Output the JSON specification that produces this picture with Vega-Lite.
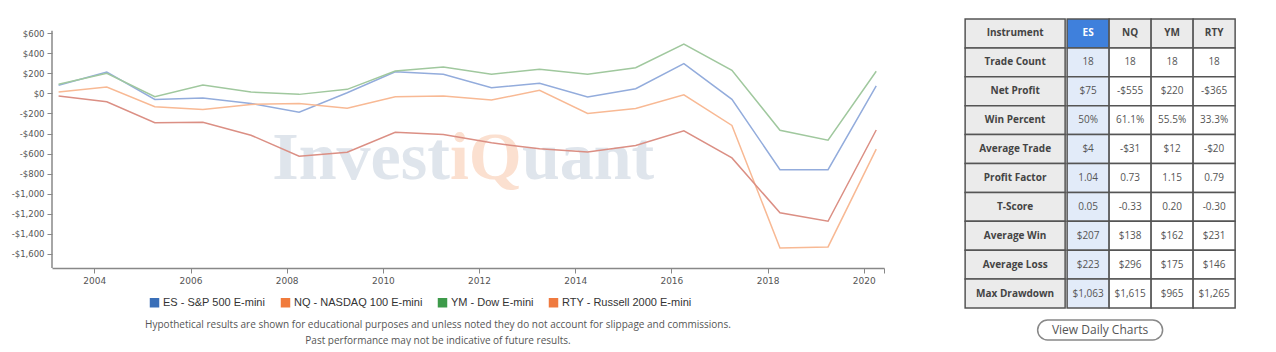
{
  "$schema": "https://vega.github.io/schema/vega-lite/v6.json",
  "background": "white",
  "padding": {"left": 11, "top": 18, "right": 0, "bottom": 0},
  "config": {"view": {"stroke": null}},
  "datasets": {
    "series": [
      {"date": "2003-04-05", "series": "ES - S&P 500 E-mini", "value": 80},
      {"date": "2004-04-05", "series": "ES - S&P 500 E-mini", "value": 213},
      {"date": "2005-04-05", "series": "ES - S&P 500 E-mini", "value": -60},
      {"date": "2006-04-05", "series": "ES - S&P 500 E-mini", "value": -47},
      {"date": "2007-04-05", "series": "ES - S&P 500 E-mini", "value": -100},
      {"date": "2008-04-05", "series": "ES - S&P 500 E-mini", "value": -187},
      {"date": "2009-04-05", "series": "ES - S&P 500 E-mini", "value": 6},
      {"date": "2010-04-05", "series": "ES - S&P 500 E-mini", "value": 216},
      {"date": "2011-04-05", "series": "ES - S&P 500 E-mini", "value": 190},
      {"date": "2012-04-05", "series": "ES - S&P 500 E-mini", "value": 56},
      {"date": "2013-04-05", "series": "ES - S&P 500 E-mini", "value": 100},
      {"date": "2014-04-05", "series": "ES - S&P 500 E-mini", "value": -37},
      {"date": "2015-04-05", "series": "ES - S&P 500 E-mini", "value": 46},
      {"date": "2016-04-05", "series": "ES - S&P 500 E-mini", "value": 296},
      {"date": "2017-04-05", "series": "ES - S&P 500 E-mini", "value": -60},
      {"date": "2018-04-05", "series": "ES - S&P 500 E-mini", "value": -760},
      {"date": "2019-04-05", "series": "ES - S&P 500 E-mini", "value": -760},
      {"date": "2020-04-05", "series": "ES - S&P 500 E-mini", "value": 75},
      {"date": "2003-04-05", "series": "NQ - NASDAQ 100 E-mini", "value": 13},
      {"date": "2004-04-05", "series": "NQ - NASDAQ 100 E-mini", "value": 63},
      {"date": "2005-04-05", "series": "NQ - NASDAQ 100 E-mini", "value": -134},
      {"date": "2006-04-05", "series": "NQ - NASDAQ 100 E-mini", "value": -160},
      {"date": "2007-04-05", "series": "NQ - NASDAQ 100 E-mini", "value": -110},
      {"date": "2008-04-05", "series": "NQ - NASDAQ 100 E-mini", "value": -100},
      {"date": "2009-04-05", "series": "NQ - NASDAQ 100 E-mini", "value": -147},
      {"date": "2010-04-05", "series": "NQ - NASDAQ 100 E-mini", "value": -34},
      {"date": "2011-04-05", "series": "NQ - NASDAQ 100 E-mini", "value": -27},
      {"date": "2012-04-05", "series": "NQ - NASDAQ 100 E-mini", "value": -67},
      {"date": "2013-04-05", "series": "NQ - NASDAQ 100 E-mini", "value": 30},
      {"date": "2014-04-05", "series": "NQ - NASDAQ 100 E-mini", "value": -200},
      {"date": "2015-04-05", "series": "NQ - NASDAQ 100 E-mini", "value": -150},
      {"date": "2016-04-05", "series": "NQ - NASDAQ 100 E-mini", "value": -14},
      {"date": "2017-04-05", "series": "NQ - NASDAQ 100 E-mini", "value": -320},
      {"date": "2018-04-05", "series": "NQ - NASDAQ 100 E-mini", "value": -1540},
      {"date": "2019-04-05", "series": "NQ - NASDAQ 100 E-mini", "value": -1530},
      {"date": "2020-04-05", "series": "NQ - NASDAQ 100 E-mini", "value": -555},
      {"date": "2003-04-05", "series": "YM - Dow E-mini", "value": 90},
      {"date": "2004-04-05", "series": "YM - Dow E-mini", "value": 200},
      {"date": "2005-04-05", "series": "YM - Dow E-mini", "value": -34},
      {"date": "2006-04-05", "series": "YM - Dow E-mini", "value": 83},
      {"date": "2007-04-05", "series": "YM - Dow E-mini", "value": 13},
      {"date": "2008-04-05", "series": "YM - Dow E-mini", "value": -10},
      {"date": "2009-04-05", "series": "YM - Dow E-mini", "value": 40},
      {"date": "2010-04-05", "series": "YM - Dow E-mini", "value": 222},
      {"date": "2011-04-05", "series": "YM - Dow E-mini", "value": 263},
      {"date": "2012-04-05", "series": "YM - Dow E-mini", "value": 190},
      {"date": "2013-04-05", "series": "YM - Dow E-mini", "value": 240},
      {"date": "2014-04-05", "series": "YM - Dow E-mini", "value": 190},
      {"date": "2015-04-05", "series": "YM - Dow E-mini", "value": 256},
      {"date": "2016-04-05", "series": "YM - Dow E-mini", "value": 490},
      {"date": "2017-04-05", "series": "YM - Dow E-mini", "value": 230},
      {"date": "2018-04-05", "series": "YM - Dow E-mini", "value": -367},
      {"date": "2019-04-05", "series": "YM - Dow E-mini", "value": -467},
      {"date": "2020-04-05", "series": "YM - Dow E-mini", "value": 220},
      {"date": "2003-04-05", "series": "RTY - Russell 2000 E-mini", "value": -27},
      {"date": "2004-04-05", "series": "RTY - Russell 2000 E-mini", "value": -84},
      {"date": "2005-04-05", "series": "RTY - Russell 2000 E-mini", "value": -293},
      {"date": "2006-04-05", "series": "RTY - Russell 2000 E-mini", "value": -287},
      {"date": "2007-04-05", "series": "RTY - Russell 2000 E-mini", "value": -417},
      {"date": "2008-04-05", "series": "RTY - Russell 2000 E-mini", "value": -627},
      {"date": "2009-04-05", "series": "RTY - Russell 2000 E-mini", "value": -587},
      {"date": "2010-04-05", "series": "RTY - Russell 2000 E-mini", "value": -387},
      {"date": "2011-04-05", "series": "RTY - Russell 2000 E-mini", "value": -410},
      {"date": "2012-04-05", "series": "RTY - Russell 2000 E-mini", "value": -493},
      {"date": "2013-04-05", "series": "RTY - Russell 2000 E-mini", "value": -553},
      {"date": "2014-04-05", "series": "RTY - Russell 2000 E-mini", "value": -583},
      {"date": "2015-04-05", "series": "RTY - Russell 2000 E-mini", "value": -520},
      {"date": "2016-04-05", "series": "RTY - Russell 2000 E-mini", "value": -373},
      {"date": "2017-04-05", "series": "RTY - Russell 2000 E-mini", "value": -643},
      {"date": "2018-04-05", "series": "RTY - Russell 2000 E-mini", "value": -1190},
      {"date": "2019-04-05", "series": "RTY - Russell 2000 E-mini", "value": -1274},
      {"date": "2020-04-05", "series": "RTY - Russell 2000 E-mini", "value": -365}
    ],
    "metrics": [
      {"metric": "Instrument"}, {"metric": "Trade Count"}, {"metric": "Net Profit"}, {"metric": "Win Percent"}, {"metric": "Average Trade"},
      {"metric": "Profit Factor"}, {"metric": "T-Score"}, {"metric": "Average Win"}, {"metric": "Average Loss"}, {"metric": "Max Drawdown"}
    ],
    "table": [
      {"metric": "Instrument", "inst": "ES", "value": "ES"},
      {"metric": "Instrument", "inst": "NQ", "value": "NQ"},
      {"metric": "Instrument", "inst": "YM", "value": "YM"},
      {"metric": "Instrument", "inst": "RTY", "value": "RTY"},
      {"metric": "Trade Count", "inst": "ES", "value": "18"},
      {"metric": "Trade Count", "inst": "NQ", "value": "18"},
      {"metric": "Trade Count", "inst": "YM", "value": "18"},
      {"metric": "Trade Count", "inst": "RTY", "value": "18"},
      {"metric": "Net Profit", "inst": "ES", "value": "$75"},
      {"metric": "Net Profit", "inst": "NQ", "value": "-$555"},
      {"metric": "Net Profit", "inst": "YM", "value": "$220"},
      {"metric": "Net Profit", "inst": "RTY", "value": "-$365"},
      {"metric": "Win Percent", "inst": "ES", "value": "50%"},
      {"metric": "Win Percent", "inst": "NQ", "value": "61.1%"},
      {"metric": "Win Percent", "inst": "YM", "value": "55.5%"},
      {"metric": "Win Percent", "inst": "RTY", "value": "33.3%"},
      {"metric": "Average Trade", "inst": "ES", "value": "$4"},
      {"metric": "Average Trade", "inst": "NQ", "value": "-$31"},
      {"metric": "Average Trade", "inst": "YM", "value": "$12"},
      {"metric": "Average Trade", "inst": "RTY", "value": "-$20"},
      {"metric": "Profit Factor", "inst": "ES", "value": "1.04"},
      {"metric": "Profit Factor", "inst": "NQ", "value": "0.73"},
      {"metric": "Profit Factor", "inst": "YM", "value": "1.15"},
      {"metric": "Profit Factor", "inst": "RTY", "value": "0.79"},
      {"metric": "T-Score", "inst": "ES", "value": "0.05"},
      {"metric": "T-Score", "inst": "NQ", "value": "-0.33"},
      {"metric": "T-Score", "inst": "YM", "value": "0.20"},
      {"metric": "T-Score", "inst": "RTY", "value": "-0.30"},
      {"metric": "Average Win", "inst": "ES", "value": "$207"},
      {"metric": "Average Win", "inst": "NQ", "value": "$138"},
      {"metric": "Average Win", "inst": "YM", "value": "$162"},
      {"metric": "Average Win", "inst": "RTY", "value": "$231"},
      {"metric": "Average Loss", "inst": "ES", "value": "$223"},
      {"metric": "Average Loss", "inst": "NQ", "value": "$296"},
      {"metric": "Average Loss", "inst": "YM", "value": "$175"},
      {"metric": "Average Loss", "inst": "RTY", "value": "$146"},
      {"metric": "Max Drawdown", "inst": "ES", "value": "$1,063"},
      {"metric": "Max Drawdown", "inst": "NQ", "value": "$1,615"},
      {"metric": "Max Drawdown", "inst": "YM", "value": "$965"},
      {"metric": "Max Drawdown", "inst": "RTY", "value": "$1,265"}
    ]
  },
  "spacing": 79,
  "hconcat": [
    {
      "width": 832,
      "height": 249,
      "title": {
        "text": ["Hypothetical results are shown for educational purposes and unless noted they do not account for slippage and commissions.", "Past performance may not be indicative of future results."],
        "orient": "bottom",
        "anchor": "middle",
        "frame": "group",
        "dx": -30,
        "offset": 35,
        "font": "Open Sans",
        "fontSize": 10,
        "fontWeight": "normal",
        "color": "#555",
        "lineHeight": 16
      },
      "layer": [
        {
          "data": {"values": [{"t": "Invest"}]},
          "mark": {"type": "text", "align": "right", "baseline": "alphabetic", "font": "Liberation Serif", "fontWeight": "bold", "fontSize": 68, "color": "#dfe5ec"},
          "encoding": {
            "x": {"datum": {"year": 2011, "month": 5, "date": 25}, "type": "temporal"},
            "y": {"datum": -855, "type": "quantitative"},
            "text": {"field": "t"}
          }
        },
        {
          "data": {"values": [{"t": "iQ"}]},
          "mark": {"type": "text", "align": "left", "baseline": "alphabetic", "font": "Liberation Serif", "fontWeight": "bold", "fontSize": 68, "color": "#fbe0d0"},
          "encoding": {
            "x": {"datum": {"year": 2011, "month": 5, "date": 25}, "type": "temporal"},
            "y": {"datum": -855, "type": "quantitative"},
            "text": {"field": "t"}
          }
        },
        {
          "data": {"values": [{"t": "uant"}]},
          "mark": {"type": "text", "align": "left", "baseline": "alphabetic", "font": "Liberation Serif", "fontWeight": "bold", "fontSize": 68, "color": "#dfe5ec"},
          "encoding": {
            "x": {"datum": {"year": 2012, "month": 11, "date": 22}, "type": "temporal"},
            "y": {"datum": -855, "type": "quantitative"},
            "text": {"field": "t"}
          }
        },
        {
          "data": {"values": [{"t": "axis"}]},
          "mark": {"type": "rule", "color": "#888", "strokeWidth": 1.5},
          "encoding": {
            "x": {"datum": {"year": 2003, "month": 2, "date": 14}, "type": "temporal"},
            "y": {"datum": 623, "type": "quantitative"},
            "y2": {"datum": -1740}
          }
        },
        {
          "data": {"name": "series"},
          "mark": {"type": "line", "strokeWidth": 1.5},
          "encoding": {
            "x": {
              "field": "date", "type": "temporal",
              "scale": {"domain": [{"year": 2003, "month": 2, "date": 14}, {"year": 2020, "month": 6, "date": 3}]},
              "axis": {
                "title": null, "grid": false, "tickCount": 20,
                "values": [{"year": 2004}, {"year": 2006}, {"year": 2008}, {"year": 2010}, {"year": 2012}, {"year": 2014}, {"year": 2016}, {"year": 2018}, {"year": 2020}, {"year": 2020, "month": 6, "date": 3}],
                "labelExpr": "month(datum.value) == 0 ? timeFormat(datum.value, '%Y') : ''",
                "domainColor": "#888", "domainWidth": 1.5, "tickColor": "#888", "tickSize": 5, "tickWidth": 1,
                "labelFont": "DejaVu Sans", "labelFontSize": 9, "labelColor": "#555", "labelPadding": 3, "labelOverlap": false
              }
            },
            "y": {
              "field": "value", "type": "quantitative",
              "scale": {"domain": [-1740, 741], "nice": false, "zero": false},
              "axis": {
                "title": null, "grid": false, "domain": false, "labelOverlap": false, "tickCount": 20,
                "values": [-1600, -1400, -1200, -1000, -800, -600, -400, -200, 0, 200, 400, 600],
                "labelExpr": "(datum.value < 0 ? '-' : '') + '$' + format(abs(datum.value), ',')",
                "tickColor": "#888", "tickSize": 5, "tickWidth": 1,
                "labelFont": "DejaVu Sans", "labelFontSize": 8.5, "labelColor": "#555", "labelPadding": 3
              }
            },
            "color": {
              "field": "series", "type": "nominal",
              "scale": {
                "domain": ["ES - S&P 500 E-mini", "NQ - NASDAQ 100 E-mini", "YM - Dow E-mini", "RTY - Russell 2000 E-mini"],
                "range": ["#93acdc", "#f8b994", "#a0c89e", "#db8f84"]
              },
              "legend": {
                "orient": "none", "legendX": 97, "legendY": 278, "direction": "horizontal", "title": null,
                "symbolType": "square", "symbolSize": 90, "symbolStrokeWidth": 0,
                "labelFont": "Liberation Sans", "labelFontSize": 11, "labelColor": "#333", "labelOffset": 3, "columnPadding": 14,
                "encode": {
                  "symbols": {
                    "update": {
                      "fill": {"signal": "datum.value === 'ES - S&P 500 E-mini' ? '#3a6fb8' : datum.value === 'NQ - NASDAQ 100 E-mini' ? '#f07b3c' : datum.value === 'YM - Dow E-mini' ? '#3d9a4a' : '#ef7a3f'"},
                      "opacity": {"value": 1}
                    }
                  }
                }
              }
            }
          }
        }
      ]
    },
    {
      "spacing": 10,
      "center": true,
      "vconcat": [
        {
          "spacing": 0,
          "hconcat": [
            {
              "width": 100,
              "height": 289,
              "data": {"name": "metrics"},
              "encoding": {
                "y": {"field": "metric", "type": "nominal", "sort": null, "axis": null, "scale": {"paddingInner": 0, "paddingOuter": 0}}
              },
              "layer": [
                {"mark": {"type": "rect", "fill": "#ebebeb", "stroke": "#555", "strokeWidth": 1.5}},
                {"mark": {"type": "text", "font": "Open Sans", "fontWeight": "bold", "fontSize": 10, "color": "#444"}, "encoding": {"text": {"field": "metric"}}}
              ]
            },
            {
              "width": 168,
              "height": 289,
              "data": {"name": "table"},
              "encoding": {
                "x": {"field": "inst", "type": "nominal", "sort": ["ES", "NQ", "YM", "RTY"], "axis": null, "scale": {"paddingInner": 0, "paddingOuter": 0}},
                "y": {"field": "metric", "type": "nominal", "sort": ["Instrument", "Trade Count", "Net Profit", "Win Percent", "Average Trade", "Profit Factor", "T-Score", "Average Win", "Average Loss", "Max Drawdown"], "axis": null, "scale": {"paddingInner": 0, "paddingOuter": 0}}
              },
              "layer": [
                {
                  "mark": {"type": "rect", "stroke": "#555", "strokeWidth": 1.5},
                  "encoding": {
                    "fill": {
                      "condition": [
                        {"test": "datum.inst === 'ES' && datum.metric === 'Instrument'", "value": "#3f80dc"},
                        {"test": "datum.inst === 'ES'", "value": "#e2ebf9"},
                        {"test": "datum.metric === 'Instrument'", "value": "#ebebeb"}
                      ],
                      "value": "#ffffff"
                    }
                  }
                },
                {
                  "transform": [{"filter": "datum.metric === 'Instrument'"}],
                  "mark": {"type": "text", "font": "Open Sans", "fontWeight": "bold", "fontSize": 10},
                  "encoding": {
                    "text": {"field": "value"},
                    "color": {"condition": {"test": "datum.inst === 'ES'", "value": "#ffffff"}, "value": "#444"}
                  }
                },
                {
                  "transform": [{"filter": "datum.metric !== 'Instrument'"}],
                  "mark": {"type": "text", "font": "Open Sans", "fontSize": 10, "color": "#555"},
                  "encoding": {"text": {"field": "value"}}
                }
              ]
            }
          ]
        },
        {
          "width": 125,
          "height": 20,
          "data": {"values": [{"label": "View Daily Charts"}]},
          "layer": [
            {"mark": {"type": "rect", "cornerRadius": 10, "fill": "#ffffff", "stroke": "#888", "strokeWidth": 1.5}, "encoding": {}},
            {"mark": {"type": "text", "font": "Open Sans", "fontSize": 12, "color": "#555"}, "encoding": {"text": {"field": "label"}}}
          ]
        }
      ]
    }
  ]
}
